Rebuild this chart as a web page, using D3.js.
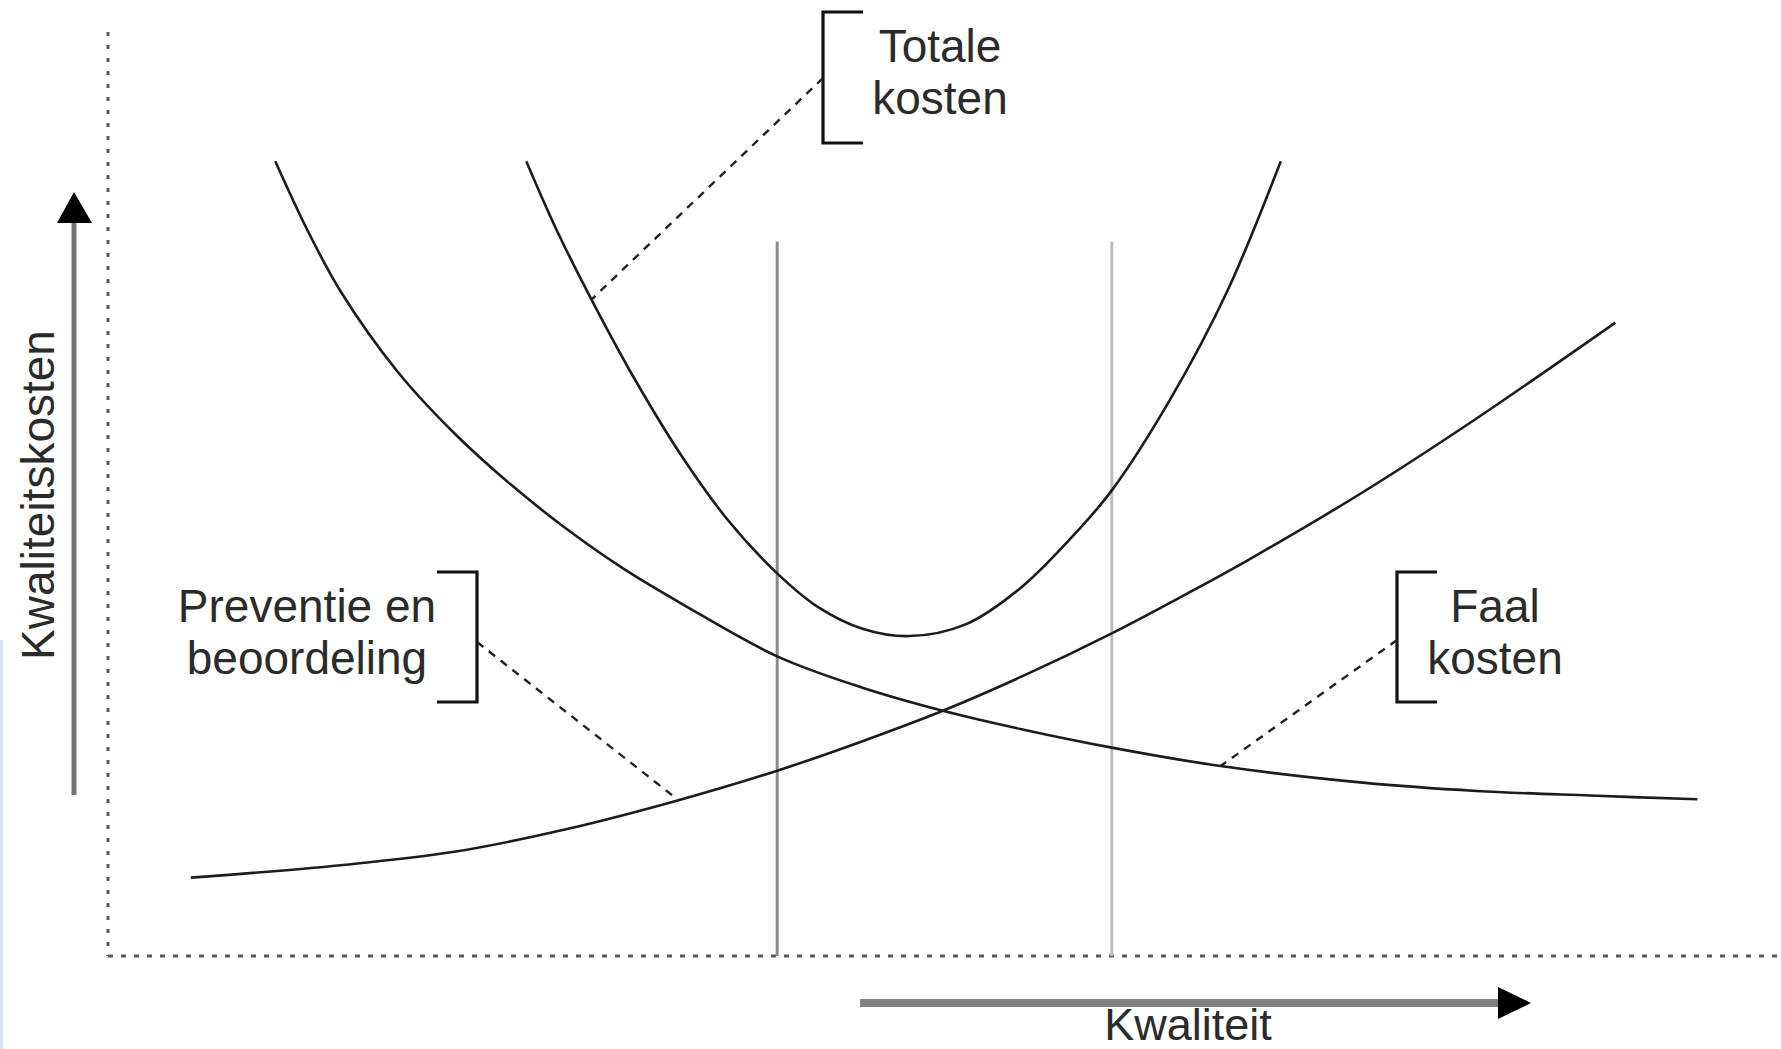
<!DOCTYPE html>
<html><head><meta charset="utf-8">
<script src="https://cdn.jsdelivr.net/npm/d3@7"></script>
<style>html,body{margin:0;padding:0;background:#fff;overflow:hidden}svg{display:block}</style>
</head><body>
<svg id="c" width="1781" height="1049"></svg>
<script>
// ---- data (quality on x, cost on y, arbitrary units 0-100) ----
const totalQuality = [25.0, 26.8, 28.9, 31.6, 34.3, 37.0, 40.0, 42.4, 45.1, 47.9, 51.3, 54.6, 58.0, 60.0, 63.5, 66.9, 70.1];
const totalCost    = [86.2, 78.8, 71.2, 62.2, 54.2, 47.4, 41.5, 37.9, 35.5, 34.7, 36.0, 40.0, 46.2, 50.5, 60.4, 72.1, 86.2];
const failQuality  = [10.0, 11.9, 13.9, 17.3, 20.7, 24.1, 27.5, 30.9, 34.3, 40.0, 45.1, 49.9, 54.6, 60.0, 66.5, 75.0, 81.8, 88.6, 95.0];
const failCost     = [86.2, 78.8, 72.1, 63.4, 56.7, 51.1, 46.2, 41.9, 38.2, 32.5, 29.1, 26.6, 24.6, 22.6, 20.6, 18.8, 17.9, 17.4, 17.0];
const prevQuality  = [4.95, 13.9, 20.7, 27.5, 34.1, 40.0, 45.1, 49.9, 54.6, 60.0, 64.8, 68.2, 75.0, 81.8, 90.1];
const prevCost     = [8.5, 9.85, 11.3, 13.8, 16.9, 20.1, 23.3, 26.6, 30.3, 35.0, 39.6, 43.0, 50.3, 58.3, 68.7];
const markerQuality = [40, 60];
const markerTop = 77.5;
const labelTotal = ["Totale", "kosten"];
const labelPrev  = ["Preventie en", "beoordeling"];
const labelFail  = ["Faal", "kosten"];
const anchorTotal = [28.9, 71.2];
const anchorPrev  = [34.1, 16.9];
const anchorFail  = [66.5, 20.6];
const yTitle = "Kwaliteitskosten";
const xTitle = "Kwaliteit";

// ---- scales ----
const W = 1781, H = 1049;
const x = d3.scaleLinear().domain([0, 100]).range([108, 1781]);
const y = d3.scaleLinear().domain([0, 100]).range([956, 34]);

const svg = d3.select("#c");
const FONT = "'Liberation Sans', Arial, sans-serif";
const TXT = "#2b2b2b";

// faint left border artifact
svg.append("line").attr("x1", 1.5).attr("x2", 1.5).attr("y1", 640).attr("y2", H)
  .attr("stroke", "#dbe3f3").attr("stroke-width", 3);

// dotted axes
svg.append("line").attr("x1", x(0)).attr("x2", x(0)).attr("y1", y(100) - 2).attr("y2", y(0))
  .attr("stroke", "#5a5a5a").attr("stroke-width", 3).attr("stroke-dasharray", "4,9");
svg.append("line").attr("x1", x(0)).attr("x2", W).attr("y1", y(0)).attr("y2", y(0))
  .attr("stroke", "#5a5a5a").attr("stroke-width", 3).attr("stroke-dasharray", "5,8");

// vertical markers
svg.selectAll("line.mk").data(markerQuality).join("line").attr("class", "mk")
  .attr("x1", d => x(d)).attr("x2", d => x(d))
  .attr("y1", y(markerTop)).attr("y2", y(0))
  .attr("stroke", (d, i) => i === 0 ? "#8c8c8c" : "#bdbdbd").attr("stroke-width", 3);

// curves
const line = d3.line().x(d => x(d[0])).y(d => y(d[1])).curve(d3.curveCatmullRom.alpha(0.5));
const series = [
  d3.zip(totalQuality, totalCost),
  d3.zip(failQuality, failCost),
  d3.zip(prevQuality, prevCost)
];
svg.selectAll("path.curve").data(series).join("path").attr("class", "curve")
  .attr("d", line).attr("fill", "none").attr("stroke", "#1c1c1c").attr("stroke-width", 2.6);

// arrows
svg.append("line").attr("x1", 74).attr("x2", 74).attr("y1", 795).attr("y2", 220)
  .attr("stroke", "#747474").attr("stroke-width", 5);
svg.append("path").attr("d", "M74,192 L57,223 L92,223 Z").attr("fill", "#000");
svg.append("line").attr("x1", 860).attr("x2", 1500).attr("y1", 1003).attr("y2", 1003)
  .attr("stroke", "#808080").attr("stroke-width", 8);
svg.append("path").attr("d", "M1531,1003 L1498,987 L1498,1019 Z").attr("fill", "#000");

// axis titles
svg.append("text").attr("transform", "translate(54,495) rotate(-90)")
  .attr("text-anchor", "middle").attr("font-family", FONT).attr("font-size", 46)
  .attr("fill", TXT).text(yTitle);
svg.append("text").attr("x", 1188).attr("y", 1040)
  .attr("text-anchor", "middle").attr("font-family", FONT).attr("font-size", 45)
  .attr("fill", TXT).text(xTitle);

// annotations: bracket + two-line label + dashed leader
function annotate(lines, cx, base, bx, btop, bbot, tickDir, leadY, anchor) {
  const g = svg.append("g");
  g.append("path")
    .attr("d", `M${bx + tickDir * 40},${btop} L${bx},${btop} L${bx},${bbot} L${bx + tickDir * 40},${bbot}`)
    .attr("fill", "none").attr("stroke", "#111").attr("stroke-width", 3.2);
  g.append("line").attr("x1", bx).attr("y1", leadY)
    .attr("x2", x(anchor[0])).attr("y2", y(anchor[1]))
    .attr("stroke", "#222").attr("stroke-width", 2.4).attr("stroke-dasharray", "8,7");
  g.selectAll("text").data(lines).join("text")
    .attr("x", cx).attr("y", (d, i) => base + i * 52)
    .attr("text-anchor", "middle").attr("font-family", FONT).attr("font-size", 46)
    .attr("fill", TXT).text(d => d);
}
annotate(labelTotal, 940, 62, 823, 12, 143, 1, 78, anchorTotal);
annotate(labelPrev, 307, 622, 477, 572, 702, -1, 642, anchorPrev);
annotate(labelFail, 1495, 622, 1397, 572, 702, 1, 640, anchorFail);
</script>
</body></html>
